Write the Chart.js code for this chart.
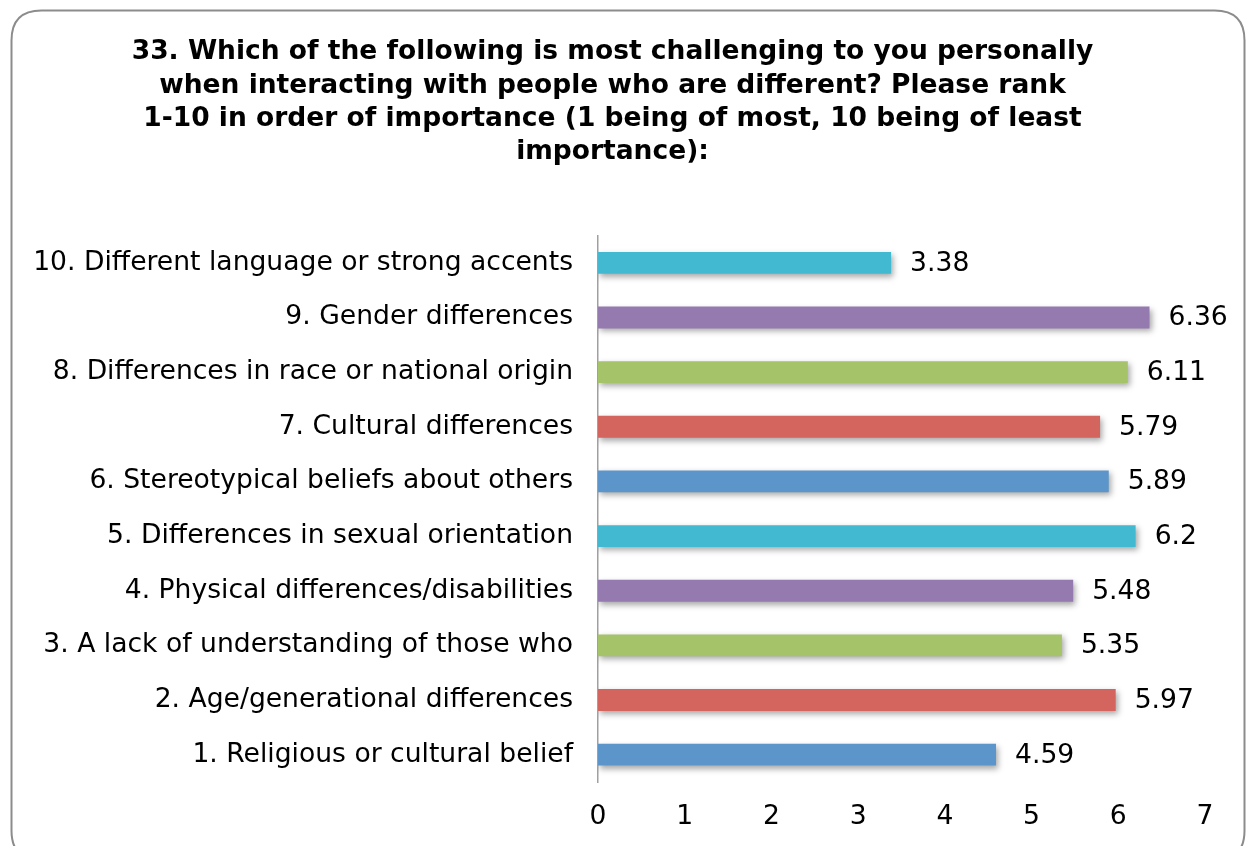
<!DOCTYPE html>
<html>
<head>
<meta charset="utf-8">
<script src="https://cdn.jsdelivr.net/npm/chart.js@4.4.1/dist/chart.umd.min.js"></script>
<style>
  html, body { margin: 0; padding: 0; background: #ffffff; }
  #wrap { width: 1248px; height: 846px; position: relative; }
</style>
</head>
<body>
<div id="wrap"><canvas id="chart" width="1248" height="846"></canvas></div>
<script>
// Survey categories, listed top to bottom as they appear on the axis
const categories = [
  "10. Different language or strong accents",
  "9. Gender differences",
  "8. Differences in race or national origin",
  "7. Cultural differences",
  "6. Stereotypical beliefs about others",
  "5. Differences in sexual orientation",
  "4. Physical differences/disabilities",
  "3. A lack of understanding of those who",
  "2. Age/generational differences",
  "1. Religious or cultural belief"
];
// Average rank for each category
const averageRank = [3.38, 6.36, 6.11, 5.79, 5.89, 6.2, 5.48, 5.35, 5.97, 4.59];
const valueLabels = ["3.38", "6.36", "6.11", "5.79", "5.89", "6.2", "5.48", "5.35", "5.97", "4.59"];
// Bar colours cycle through five tones
const barColors = ["#43B9D1", "#957AB0", "#A5C46A", "#D3645E", "#5B95C9",
                   "#43B9D1", "#957AB0", "#A5C46A", "#D3645E", "#5B95C9"];
const titleLines = [
  "33. Which of the following is most challenging to you personally",
  "when interacting with people who are different? Please rank",
  "1-10 in order of importance (1 being of most, 10 being of least",
  "importance):"
];

const FONT = "'DejaVu Sans', Verdana, sans-serif";
const LABEL_SIZE = 26.6;

// Rounded frame around the whole chart
const framePlugin = {
  id: "frame",
  beforeDraw(chart) {
    const ctx = chart.ctx;
    const x = 11.5, y = 10.5, w = 1233, h = 850, r = 30;
    ctx.save();
    ctx.fillStyle = "#ffffff";
    ctx.fillRect(0, 0, chart.width, chart.height);
    ctx.beginPath();
    ctx.moveTo(x + r, y);
    ctx.lineTo(x + w - r, y);
    ctx.quadraticCurveTo(x + w, y, x + w, y + r);
    ctx.lineTo(x + w, y + h - r);
    ctx.quadraticCurveTo(x + w, y + h, x + w - r, y + h);
    ctx.lineTo(x + r, y + h);
    ctx.quadraticCurveTo(x, y + h, x, y + h - r);
    ctx.lineTo(x, y + r);
    ctx.quadraticCurveTo(x, y, x + r, y);
    ctx.closePath();
    ctx.lineWidth = 2;
    ctx.strokeStyle = "#8c8c8c";
    ctx.stroke();
    ctx.restore();
  }
};

// Soft drop shadow under each bar
const shadowPlugin = {
  id: "barShadow",
  beforeDatasetDraw(chart) {
    const ctx = chart.ctx;
    ctx.save();
    ctx.shadowColor = "rgba(0,0,0,0.35)";
    ctx.shadowBlur = 6;
    ctx.shadowOffsetX = 2;
    ctx.shadowOffsetY = 3;
  },
  afterDatasetDraw(chart) {
    chart.ctx.restore();
  }
};

// Value written just past the end of each bar
const valueLabelPlugin = {
  id: "valueLabels",
  afterDatasetsDraw(chart) {
    const ctx = chart.ctx;
    const meta = chart.getDatasetMeta(0);
    ctx.save();
    ctx.font = LABEL_SIZE + "px " + FONT;
    ctx.fillStyle = "#000000";
    ctx.textAlign = "left";
    ctx.textBaseline = "middle";
    meta.data.forEach((bar, i) => {
      ctx.fillText(valueLabels[i], bar.x + 19, bar.y + 1);
    });
    ctx.restore();
  }
};

new Chart(document.getElementById("chart"), {
  type: "bar",
  data: {
    labels: categories,
    datasets: [{
      data: averageRank,
      backgroundColor: barColors,
      borderWidth: 0,
      categoryPercentage: 1.0,
      barPercentage: 0.4
    }]
  },
  options: {
    indexAxis: "y",
    responsive: false,
    animation: false,
    devicePixelRatio: 1,
    layout: { padding: { left: 20, right: 43, top: 0, bottom: 0 } },
    plugins: {
      legend: { display: false },
      tooltip: { enabled: false },
      title: {
        display: true,
        text: titleLines,
        color: "#000000",
        font: { family: FONT, size: 26.5, weight: "bold", lineHeight: 1.25 },
        padding: { top: 36, bottom: 67 }
      }
    },
    scales: {
      x: {
        min: 0,
        max: 7,
        afterFit(scale) { scale.height = 64; },
        ticks: { stepSize: 1, color: "#000000", padding: 19, font: { family: FONT, size: LABEL_SIZE } },
        grid: { display: false, drawTicks: false },
        border: { display: false }
      },
      y: {
        afterFit(scale) { scale.width = 578; },
        ticks: { color: "#000000", padding: 25, font: { family: FONT, size: LABEL_SIZE } },
        grid: { display: false, drawTicks: false },
        border: { display: true, color: "#a0a0a0", width: 1.5 }
      }
    }
  },
  plugins: [framePlugin, shadowPlugin, valueLabelPlugin]
});
</script>
</body>
</html>
